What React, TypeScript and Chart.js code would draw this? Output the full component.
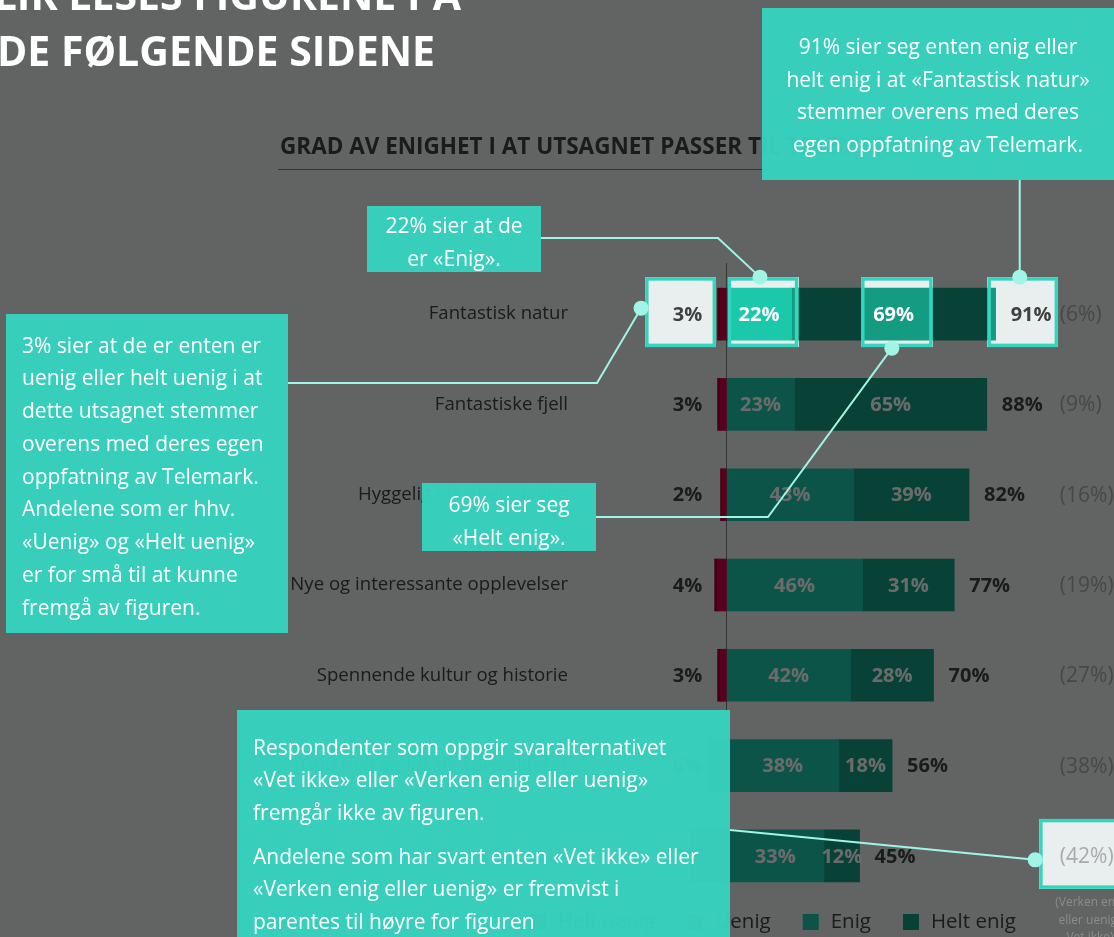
import React, { useEffect, useRef } from "react";
import { Chart, registerables } from "chart.js";

Chart.register(...registerables);

// ---------------- data ----------------
const categories = [
  "Fantastisk natur",
  "Fantastiske fjell",
  "Hyggelig lokalbefolkning",
  "Nye og interessante opplevelser",
  "Spennende kultur og historie",
  "God mat og lokale spesialiteter",
  "Gode muligheter for friluftsliv",
];
const uenig = [-2, -2, -1.5, -3, -2, -4, -8];
const heltUenig = [-1, -1, -0.5, -1, -1, -2, -4];
const enig = [22, 23, 43, 46, 42, 38, 33];
const heltEnig = [69, 65, 39, 31, 28, 18, 12];
const disagreeLabels = ["3%", "3%", "2%", "4%", "3%", "6%", "12%"];
const totalLabels = ["91%", "88%", "82%", "77%", "70%", "56%", "45%"];
const neutralLabels = ["(6%)", "(9%)", "(16%)", "(19%)", "(27%)", "(38%)", "(42%)"];
const legendOrder = ["Helt uenig", "Uenig", "Enig", "Helt enig"];

// spotlight windows (row index, value range on the x scale)
const spotlights = [
  { row: 0, from: -27.5, to: -3.5 },
  { row: 0, from: 0.4, to: 24.3 },
  { row: 0, from: 45.5, to: 69.7 },
  { row: 0, from: 88.2, to: 112.1 },
  { row: 6, from: 105.7, to: 140 },
];

const COLORS = {
  bg: "#e9efee",
  heltUenig: "#a3002f",
  uenig: "#d6004b",
  enig: "#1bc9aa",
  heltEnig: "#149c82",
  text: "#404040",
  neutral: "#aaaaaa",
  teal: "#36d3bf",
  connector: "#a0f5e6",
};
const FONT = "'Open Sans', 'Noto Sans', sans-serif";

function App() {
  const ref = useRef<HTMLCanvasElement | null>(null);

  useEffect(() => {
    const canvas = ref.current!;
    const windowRect = (chart: any, s: { row: number; from: number; to: number }) => {
      const xs = chart.scales.x;
      const ys = chart.scales.y;
      const cy = ys.getPixelForValue(s.row) - 2;
      const x0 = xs.getPixelForValue(s.from);
      const x1 = xs.getPixelForValue(s.to);
      return { x: x0, y: cy - 35, w: x1 - x0, h: 70 };
    };

    const plugin = {
      id: "infographic",
      beforeDraw(chart: any) {
        const ctx = chart.ctx;
        ctx.save();
        ctx.fillStyle = COLORS.bg;
        ctx.fillRect(0, 0, chart.width, chart.height);
        // chart title
        ctx.fillStyle = COLORS.text;
        ctx.font = `bold 22.5px ${FONT}`;
        ctx.textBaseline = "middle";
        ctx.textAlign = "left";
        ctx.fillText("GRAD AV ENIGHET I AT UTSAGNET PASSER TIL TELEMARK", 280, 148);
        ctx.strokeStyle = "#7f7f7f";
        ctx.lineWidth = 1;
        ctx.beginPath();
        ctx.moveTo(278, 169.5);
        ctx.lineTo(1114, 169.5);
        ctx.stroke();
        ctx.restore();
      },
      beforeDatasetsDraw(chart: any) {
        const ctx = chart.ctx;
        const x0 = Math.round(chart.scales.x.getPixelForValue(0)) + 0.5;
        ctx.save();
        ctx.strokeStyle = "#7f7f7f";
        ctx.lineWidth = 1;
        ctx.beginPath();
        ctx.moveTo(x0, chart.chartArea.top - 6);
        ctx.lineTo(x0, chart.chartArea.bottom - 10);
        ctx.stroke();
        ctx.restore();
      },
      afterDatasetsDraw(chart: any) {
        const ctx = chart.ctx;
        const xs = chart.scales.x;
        const ys = chart.scales.y;
        ctx.save();
        ctx.textBaseline = "middle";
        categories.forEach((_, i) => {
          const y = ys.getPixelForValue(i) + 1;
          ctx.font = `bold 20px ${FONT}`;
          ctx.textAlign = "center";
          ctx.fillStyle = "#ffffff";
          ctx.fillText(`${enig[i]}%`, xs.getPixelForValue(enig[i] / 2), y);
          ctx.fillText(`${heltEnig[i]}%`, xs.getPixelForValue(enig[i] + heltEnig[i] / 2), y);
          ctx.fillStyle = COLORS.text;
          ctx.textAlign = "left";
          ctx.fillText(totalLabels[i], xs.getPixelForValue(enig[i] + heltEnig[i]) + 15, y);
          ctx.textAlign = "right";
          ctx.fillText(disagreeLabels[i], xs.getPixelForValue(-8.2), y);
          ctx.font = `21px ${FONT}`;
          ctx.textAlign = "left";
          ctx.fillStyle = COLORS.neutral;
          ctx.fillText(neutralLabels[i], xs.getPixelForValue(112.7), y);
        });
        // legend
        const dsByLabel: Record<string, any> = {};
        chart.data.datasets.forEach((d: any) => (dsByLabel[d.label] = d));
        let lx = 530;
        const ly = 922;
        ctx.font = `20.5px ${FONT}`;
        ctx.textAlign = "left";
        legendOrder.forEach((lab) => {
          ctx.fillStyle = dsByLabel[lab].backgroundColor;
          ctx.fillRect(lx, ly - 8, 16, 16);
          ctx.fillStyle = COLORS.text;
          ctx.fillText(lab, lx + 28, ly);
          lx += 28 + ctx.measureText(lab).width + 32;
        });
        ctx.restore();
      },
      afterDraw(chart: any) {
        const ctx = chart.ctx;
        const dpr = chart.currentDevicePixelRatio || 1;
        const rects = spotlights.map((s) => windowRect(chart, s));
        const saved = rects.map((r) => {
          const x = Math.max(0, Math.round(r.x * dpr));
          const y = Math.max(0, Math.round(r.y * dpr));
          const w = Math.min(chart.width * dpr - x, Math.round(r.w * dpr));
          const h = Math.round(r.h * dpr);
          return { x, y, img: ctx.getImageData(x, y, w, h) };
        });
        ctx.save();
        ctx.fillStyle = "rgba(0,0,0,0.58)";
        ctx.fillRect(0, 0, chart.width, chart.height);
        ctx.restore();
        saved.forEach((s) => ctx.putImageData(s.img, s.x, s.y));
        ctx.save();
        ctx.strokeStyle = COLORS.teal;
        ctx.lineWidth = 3.5;
        rects.forEach((r) => ctx.strokeRect(r.x + 1.75, r.y + 1.75, r.w - 3.5, r.h - 3.5));

        // footnote (above the dim layer)
        ctx.fillStyle = "#8c8c8c";
        ctx.font = `12px ${FONT}`;
        ctx.textAlign = "center";
        ctx.textBaseline = "middle";
        ctx.fillText("(Verken enig", 1090, 903);
        ctx.fillText("eller uenig/", 1090, 921);
        ctx.fillText("Vet ikke)", 1090, 938);

        // connectors
        const r = rects;
        const topC = (q: any) => [q.x + q.w / 2 - 3, q.y];
        const botC = (q: any) => [q.x + q.w / 2 - 5, q.y + q.h + 1];
        const leftC = (q: any, dy = 0) => [q.x - 4, q.y + q.h / 2 - 4 + dy];
        const t3 = topC(r[3]);
        const connectors = [
          { pts: [[541, 238], [718, 238]], end: topC(r[1]) },
          { pts: [[t3[0], 180]], end: t3 },
          { pts: [[288, 383], [597, 383]], end: leftC(r[0]) },
          { pts: [[596, 517], [768, 517]], end: botC(r[2]) },
          { pts: [[730, 830]], end: leftC(r[4], 10) },
        ];
        ctx.strokeStyle = COLORS.connector;
        ctx.fillStyle = COLORS.connector;
        ctx.lineWidth = 2;
        connectors.forEach((c) => {
          ctx.beginPath();
          ctx.moveTo(c.pts[0][0], c.pts[0][1]);
          c.pts.slice(1).forEach((p) => ctx.lineTo(p[0], p[1]));
          ctx.lineTo(c.end[0], c.end[1]);
          ctx.stroke();
          ctx.beginPath();
          ctx.arc(c.end[0], c.end[1], 7.5, 0, Math.PI * 2);
          ctx.fill();
        });
        ctx.restore();
      },
    };

    const chart = new Chart(canvas, {
      type: "bar",
      data: {
        labels: categories,
        datasets: [
          { label: "Uenig", data: uenig, backgroundColor: COLORS.uenig },
          { label: "Helt uenig", data: heltUenig, backgroundColor: COLORS.heltUenig },
          { label: "Enig", data: enig, backgroundColor: COLORS.enig },
          { label: "Helt enig", data: heltEnig, backgroundColor: COLORS.heltEnig },
        ],
      },
      options: {
        responsive: false,
        animation: false,
        indexAxis: "y",
        devicePixelRatio: 1,
        layout: { padding: { top: 269, bottom: 36, left: 0, right: 0 } },
        datasets: { bar: { barThickness: 52 } },
        plugins: {
          legend: { display: false },
          tooltip: { enabled: false },
          title: { display: false },
        },
        scales: {
          x: { display: false, stacked: true, min: -49.5, max: 131 },
          y: {
            stacked: true,
            grid: { display: false, drawTicks: false },
            border: { display: false },
            ticks: { padding: 12, color: COLORS.text, font: { family: FONT, size: 18.6 } },
            afterFit: (s: any) => {
              s.width = 580;
            },
          },
        },
      },
      plugins: [plugin],
    } as any);
    return () => chart.destroy();
  }, []);

  const box: React.CSSProperties = {
    position: "absolute",
    background: "rgba(54,211,191,0.97)",
    color: "#ffffff",
    fontFamily: FONT,
    fontSize: 21,
    boxSizing: "border-box",
    margin: 0,
    whiteSpace: "nowrap",
  };

  return (
    <div
      style={{
        position: "absolute",
        left: 0,
        top: 0,
        width: 1114,
        height: 937,
        overflow: "hidden",
        background: "#636363",
      }}
    >
      <canvas ref={ref} width={1114} height={937} style={{ display: "block", width: 1114, height: 937 }} />
      <div
        style={{
          position: "absolute",
          left: -100,
          top: -34,
          width: 632,
          textAlign: "center",
          color: "#ffffff",
          fontFamily: FONT,
          fontWeight: 700,
          fontSize: 41,
          lineHeight: "56px",
        }}
      >
        SLIK LESES FIGURENE PÅ
        <br />
        DE FØLGENDE SIDENE
      </div>
      <div style={{ ...box, left: 762, top: 8, width: 352, height: 172, textAlign: "center", paddingTop: 22, lineHeight: "32.7px" }}>
        91% sier seg enten enig eller
        <br />
        helt enig i at «Fantastisk natur»
        <br />
        stemmer overens med deres
        <br />
        egen oppfatning av Telemark.
      </div>
      <div style={{ ...box, left: 367, top: 206, width: 174, height: 66, textAlign: "center", paddingTop: 2.5, lineHeight: "33px" }}>
        22% sier at de
        <br />
        er «Enig».
      </div>
      <div style={{ ...box, left: 6, top: 314, width: 282, height: 319, paddingLeft: 16, paddingTop: 14.6, lineHeight: "32.75px" }}>
        3% sier at de er enten er
        <br />
        uenig eller helt uenig i at
        <br />
        dette utsagnet stemmer
        <br />
        overens med deres egen
        <br />
        oppfatning av Telemark.
        <br />
        Andelene som er hhv.
        <br />
        «Uenig» og «Helt uenig»
        <br />
        er for små til at kunne
        <br />
        fremgå av figuren.
      </div>
      <div style={{ ...box, left: 422, top: 483, width: 174, height: 68, textAlign: "center", paddingTop: 4.5, lineHeight: "33px" }}>
        69% sier seg
        <br />
        «Helt enig».
      </div>
      <div style={{ ...box, left: 237, top: 710, width: 493, height: 240, paddingLeft: 16, paddingTop: 20.75, lineHeight: "32.5px" }}>
        <div>
          Respondenter som oppgir svaralternativet
          <br />
          «Vet ikke» eller «Verken enig eller uenig»
          <br />
          fremgår ikke av figuren.
        </div>
        <div style={{ marginTop: 11.5 }}>
          Andelene som har svart enten «Vet ikke» eller
          <br />
          «Verken enig eller uenig» er fremvist i
          <br />
          parentes til høyre for figuren
        </div>
      </div>
    </div>
  );
}

export default App;
